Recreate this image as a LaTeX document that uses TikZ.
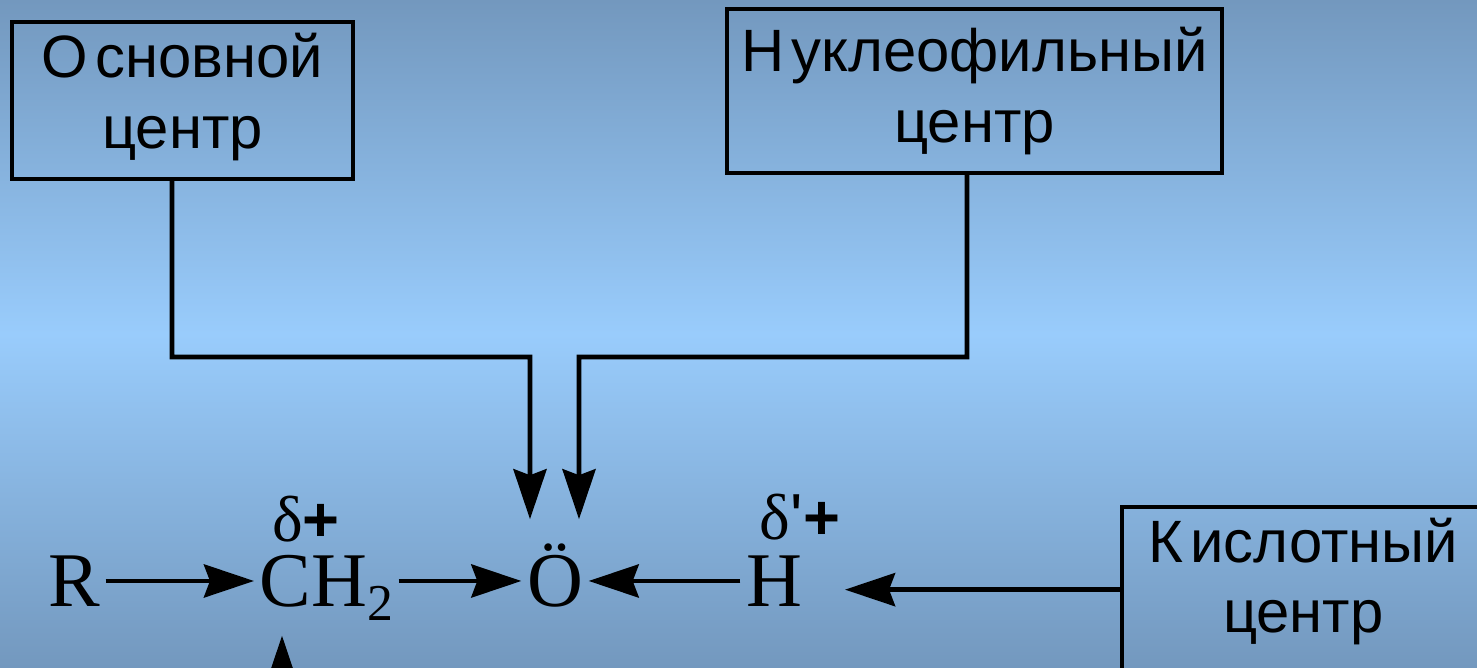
\documentclass[tikz,border=0pt]{standalone}
\usepackage{fontspec}
\setmainfont{Liberation Serif}
\setsansfont{Liberation Sans}
\usetikzlibrary{arrows.meta}
\definecolor{bgedge}{RGB}{115,152,190}
\definecolor{bgmid}{RGB}{153,204,252}

\begin{document}
\begin{tikzpicture}[x=0.01cm,y=-0.01cm,
	centre/.style={draw=black, line width=1.2pt, align=center, inner sep=0pt,
		font=\sffamily\fontsize{17}{20}\selectfont},
	chem/.style={inner xsep=0.05cm, inner ysep=0pt, text height=0.52cm, text depth=0cm,
		font=\fontsize{22}{22}\selectfont},
	charge/.style={inner sep=0pt, font=\fontsize{18.5}{18.5}\selectfont},
	arr/.style={line width=1.4pt, -{Stealth[length=0.5cm,width=0.33cm,inset=0.06cm]}}]
	    \useasboundingbox (0,0) rectangle (1477,668);
	    \shade[top color=bgedge, bottom color=bgedge, middle color=bgmid] (0,0) rectangle (1477,668);
	    \clip (0,0) rectangle (1477,668);
	    \node[centre, minimum width=3.41cm, minimum height=1.57cm] (osn) at (182.5,100.5) {О\kern0.12em сновной\\центр\rule[-0.19cm]{0pt}{0pt}};
	    \node[centre, minimum width=4.95cm, minimum height=1.64cm] (nukl) at (974.5,91) {Н\kern0.12em уклеофильный\\центр};
	    \node[centre, minimum width=3.62cm, minimum height=1.65cm, anchor=north west] (kisl) at (1120,505) {К\kern0.12em ислотный\\центр\rule[-0.29cm]{0pt}{0pt}};
	    \node[chem, anchor=base] (R) at (74,607) {R};
	    \node[chem, anchor=base west] (ch2) at (254,607) {CH\raisebox{-3.7pt}{\fontsize{14.7}{14.7}\selectfont 2}};
	    \node[chem, anchor=base] (O) at (555,607) {Ö};
	    \node[chem, anchor=base] (H) at (774,607) {H};
	    \node[charge, anchor=base] (d1) at (306,542) {δ{\sffamily\bfseries\fontsize{18}{18}\selectfont +}};
	    \node[charge, anchor=base] (d2) at (800,540) {δ{\sffamily\textquotesingle\bfseries\fontsize{18}{18}\selectfont +}};
	    \coordinate (below) at (282,700);
	    \draw[arr] (R) -- (ch2);
	    \draw[arr] (ch2) -- (O);
	    \draw[arr] (H) -- (O);
	    \draw[arr] ([xshift=-0.105cm]osn.south) |- (530,357) -- ([xshift=-0.25cm,yshift=0.35cm]O.north);
	    \draw[arr] ([xshift=-0.075cm]nukl.south) |- (579,357) -- ([xshift=0.24cm,yshift=0.35cm]O.north);
	    \draw[arr] (kisl.west) -- ++(-275,0);
	    \draw[arr] (below) -- ([xshift=0.28cm,yshift=-0.28cm]ch2.south west);
    \end{tikzpicture}
\end{document}
